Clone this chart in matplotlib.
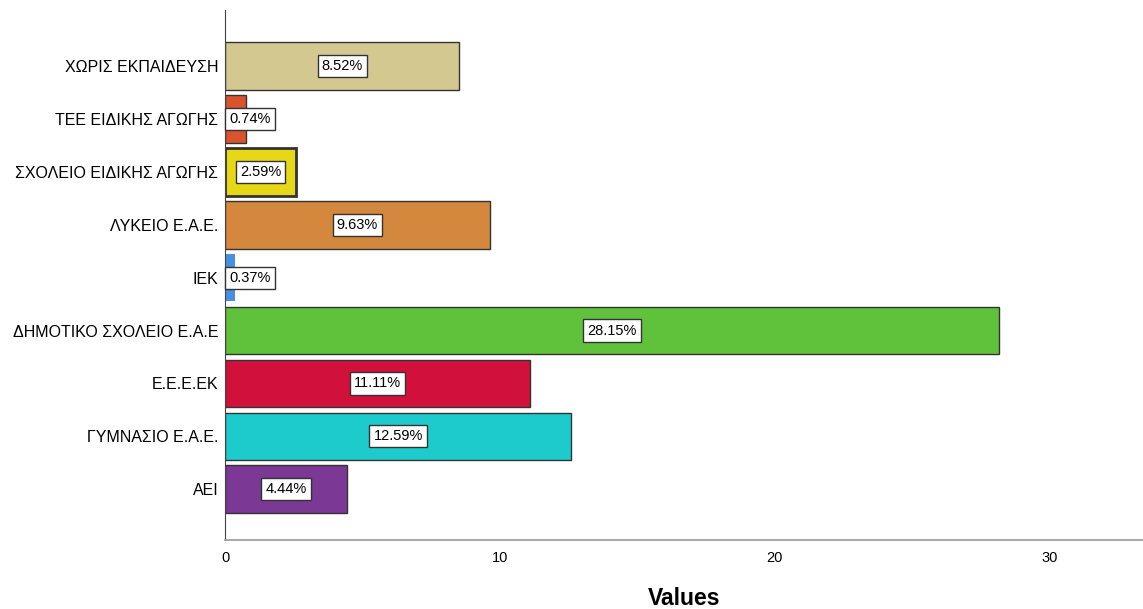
import matplotlib
matplotlib.use("Agg")
import matplotlib.pyplot as plt

categories = ["ΑΕΙ", "ΓΥΜΝΑΣΙΟ Ε.Α.Ε.", "Ε.Ε.Ε.ΕΚ", "ΔΗΜΟΤΙΚΟ ΣΧΟΛΕΙΟ Ε.Α.Ε", "ΙΕΚ",
              "ΛΥΚΕΙΟ Ε.Α.Ε.", "ΣΧΟΛΕΙΟ ΕΙΔΙΚΗΣ ΑΓΩΓΗΣ", "ΤΕΕ ΕΙΔΙΚΗΣ ΑΓΩΓΗΣ", "ΧΩΡΙΣ ΕΚΠΑΙΔΕΥΣΗ"]
values = [4.44, 12.59, 11.11, 28.15, 0.37, 9.63, 2.59, 0.74, 8.52]
colors = ["#7b3895", "#1ecbcc", "#d2103c", "#5fc23a", "#4a8fe0",
          "#d4883e", "#e6d816", "#d9532f", "#d3c990"]
edgecolors = ["#333333", "#333333", "#333333", "#333333", "none",
              "#333333", "#333333", "#333333", "#333333"]
edgewidths = [1.0, 1.0, 1.0, 1.0, 0, 1.0, 2.0, 1.0, 1.0]
xticks = [0, 10, 20, 30]

plt.rcParams["font.family"] = ["Liberation Sans", "DejaVu Sans"]

fig = plt.figure(figsize=(11.43, 6.09), dpi=100)
ax = fig.add_axes([0.197, 0.1133, 0.803, 0.8703])

ypos = list(range(len(categories)))
for y, v, c, ec, lw in zip(ypos, values, colors, edgecolors, edgewidths):
    ax.barh(y, v, height=0.9, color=c, edgecolor=ec, linewidth=lw)
    if v < 1.5:
        ax.text(0.16, y, f"{v:.2f}%", ha="left", va="center", fontsize=10.5,
                bbox=dict(boxstyle="square,pad=0.28", fc="white", ec="#333333", lw=1))
    else:
        ax.text(v / 2, y, f"{v:.2f}%", ha="center", va="center", fontsize=10.5,
                bbox=dict(boxstyle="square,pad=0.28", fc="white", ec="#333333", lw=1))

ax.set_yticks(ypos)
ax.set_yticklabels(categories, fontsize=11.5)
ax.set_xticks(xticks)
ax.set_xticklabels([str(t) for t in xticks], fontsize=10.5)
ax.tick_params(axis="both", length=0)
ax.tick_params(axis="y", pad=5)
ax.tick_params(axis="x", pad=8)
ax.set_xlim(0, 33.4)
ax.set_ylim(-0.96, 9.06)
for s in ["top", "right"]:
    ax.spines[s].set_visible(False)
ax.spines["left"].set_color("#444444")
ax.spines["bottom"].set_color("#999999")
ax.spines["bottom"].set_linewidth(1.2)
ax.set_xlabel("Values", fontsize=16.5, fontweight="bold", labelpad=16)

fig.savefig("out.png", dpi=100)
